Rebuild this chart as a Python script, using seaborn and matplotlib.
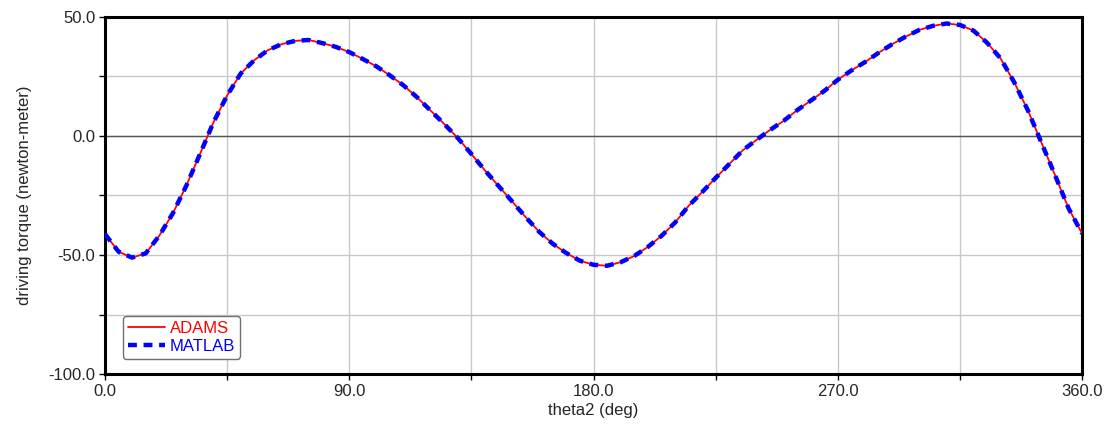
import numpy as np
import matplotlib
matplotlib.use("Agg")
import matplotlib.pyplot as plt
from matplotlib.ticker import MultipleLocator, FormatStrFormatter
import seaborn as sns

# crank angle (deg), read every 5 deg off the reference curve
theta2 = list(range(0, 361, 5))
adams = [
    -41.2, -48.6, -51.1, -49.3, -41.9, -32.5, -20.8, -7.6, 5.8, 17.0,
    26.2, 31.8, 36.0, 38.5, 39.9, 40.3, 39.0, 37.4, 35.2, 32.3,
    29.2, 25.4, 21.2, 16.2, 10.6, 5.0, -0.9, -7.6, -14.5, -21.0,
    -27.5, -34.1, -40.3, -45.3, -49.2, -52.4, -54.1, -54.5, -53.0, -50.4,
    -46.6, -42.0, -36.4, -29.4, -23.6, -17.6, -11.8, -6.0, -1.7, 2.5,
    6.3, 10.8, 14.8, 18.9, 23.6, 27.5, 31.0, 34.9, 38.5, 41.7,
    44.5, 46.2, 47.2, 46.6, 44.2, 39.1, 32.5, 22.5, 10.8, -2.8,
    -16.4, -30.4, -41.0,
]
# MATLAB result overlays ADAMS in the picture
matlab = list(adams)

sns.set_style("white")
plt.rcParams["font.family"] = ["Liberation Sans", "DejaVu Sans"]

fig = plt.figure(figsize=(11.11, 4.32), dpi=100)
ax = fig.add_axes([0.0945, 0.134, 0.8795, 0.827])

ax.axhline(0, color="#555555", lw=1.0, zorder=1)
sns.lineplot(x=theta2, y=adams, ax=ax, color="red", lw=1.3, label="ADAMS", zorder=3)
sns.lineplot(x=theta2, y=matlab, ax=ax, color="blue", lw=3.2, label="MATLAB",
             zorder=4, dashes=False, linestyle=(0, (2.0, 1.5)))

ax.set_xlim(0, 360)
ax.set_ylim(-100, 50)
ax.xaxis.set_major_locator(MultipleLocator(90))
ax.xaxis.set_minor_locator(MultipleLocator(45))
ax.yaxis.set_major_locator(MultipleLocator(50))
ax.yaxis.set_minor_locator(MultipleLocator(25))
ax.xaxis.set_major_formatter(FormatStrFormatter("%.1f"))
ax.yaxis.set_major_formatter(FormatStrFormatter("%.1f"))
ax.grid(which="both", color="#c8c8c8", lw=1.0, zorder=0)
ax.set_axisbelow(True)

for s in ax.spines.values():
    s.set_color("black")
    s.set_linewidth(2.2)
ax.tick_params(which="both", direction="out", length=4, width=1, color="black",
               labelsize=12, bottom=True, left=True, pad=3)

ax.set_xlabel("theta2 (deg)", fontsize=12, labelpad=3)
ax.set_ylabel("driving torque (newton-meter)", fontsize=12, labelpad=12)

leg = ax.legend(loc="lower left", bbox_to_anchor=(0.01, 0.02), fontsize=12,
                frameon=True, fancybox=True, edgecolor="#707070", framealpha=1,
                handlelength=2.2, handletextpad=0.3, borderpad=0.3, labelspacing=0.15)
for txt, c in zip(leg.get_texts(), ["red", "blue"]):
    txt.set_color(c)

fig.savefig("out.png", dpi=100)
